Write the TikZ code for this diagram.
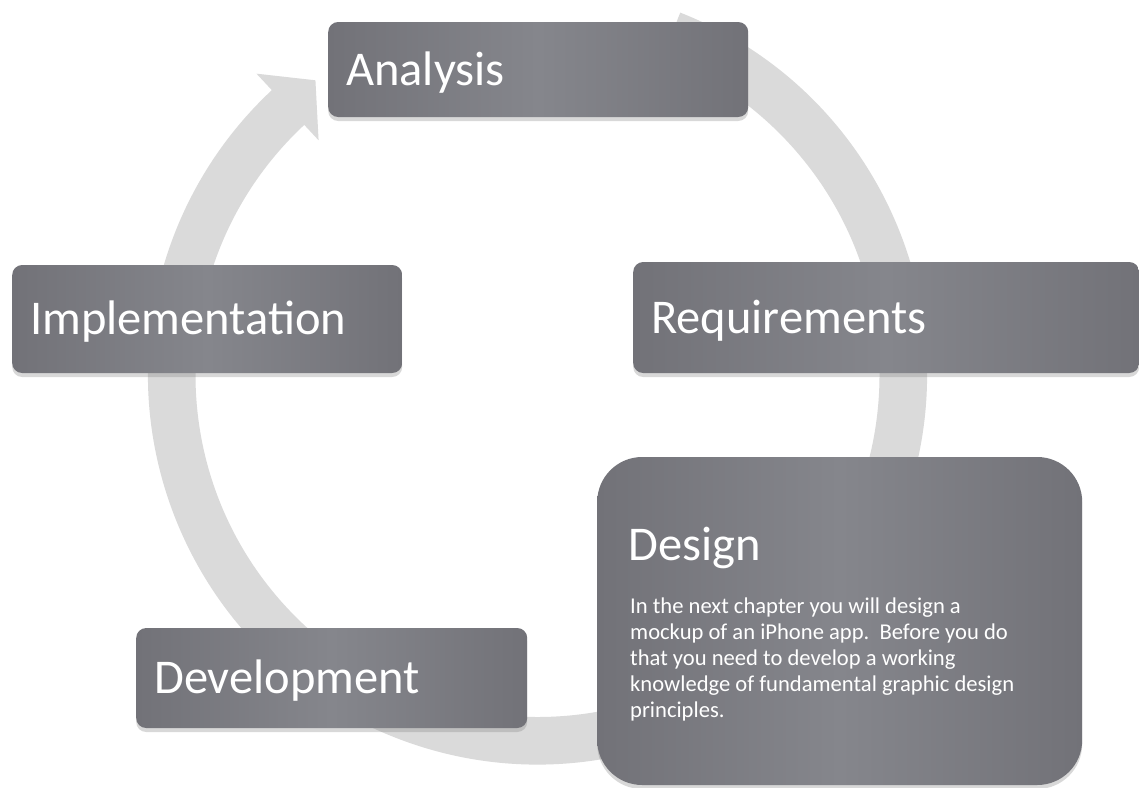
\documentclass[tikz,border=0pt]{standalone}
\usepackage{fontspec}
\setmainfont{Carlito}
\usetikzlibrary{shadows}
\definecolor{anillo}{RGB}{218,218,218}
\definecolor{cajaosc}{RGB}{114,114,120}
\definecolor{cajaclara}{RGB}{133,134,140}

\begin{document}
\begin{tikzpicture}[x=1pt, y=1pt, % 1 pixel = 1 pt
  fase/.style={rounded corners=10pt, left color=cajaosc, right color=cajaosc, middle color=cajaclara,
    text=white, font=\fontsize{48.5}{56}\selectfont, inner xsep=18pt, inner ysep=0pt,
    text height=31pt, text depth=0pt, align=left, anchor=west,
    drop shadow={shadow xshift=0pt, shadow yshift=-4pt, opacity=.3}},
  cuerpo/.style={text=white, font=\fontsize{22.6}{25.8}\selectfont, inner sep=0pt, align=left}]
% Fondo y margenes
\fill[white] (0,0) rectangle (1139,-787);
\useasboundingbox (0,0) rectangle (1139,-787);
% Anillo con flecha (sentido horario)
\fill[anillo, shift={(537.5,-375)}] (68.5:389.5) arc[start angle=68.5, end angle=-227, radius=389.5]
  -- (133:412) -- (127:369) -- (133:321) -- (133:342)
  arc[start angle=-227, end angle=68.5, radius=342] -- cycle;
% Fases del ciclo
\node[fase, text width=384pt, minimum height=95pt] (analisis) at (328,-69.5) {Analysis};
\node[fase, text width=470pt, minimum height=111pt] (requisitos) at (633,-317.5) {Requirements};
\node[fase, text width=354pt, minimum height=108pt] (implementacion) at (12,-319) {Implementation};
\node[fase, text width=355pt, minimum height=100pt] (desarrollo) at (136,-678) {Development};
% Caja grande del diseno
\node[fase, rounded corners=45pt, minimum width=485pt, minimum height=328pt] (diseno) at (597,-621) {};
\node[cuerpo, font=\fontsize{48.5}{56}\selectfont, anchor=base west] (disenotitulo) at (628,-560) {Design};
\node[cuerpo, anchor=north west] (disenotexto) at (630,-598) {In the next chapter you will design a\\
  mockup of an iPhone app.\ \ Before you do\\ that you need to develop a working\\
  knowledge of fundamental graphic design\\ principles.};
\end{tikzpicture}
\end{document}
